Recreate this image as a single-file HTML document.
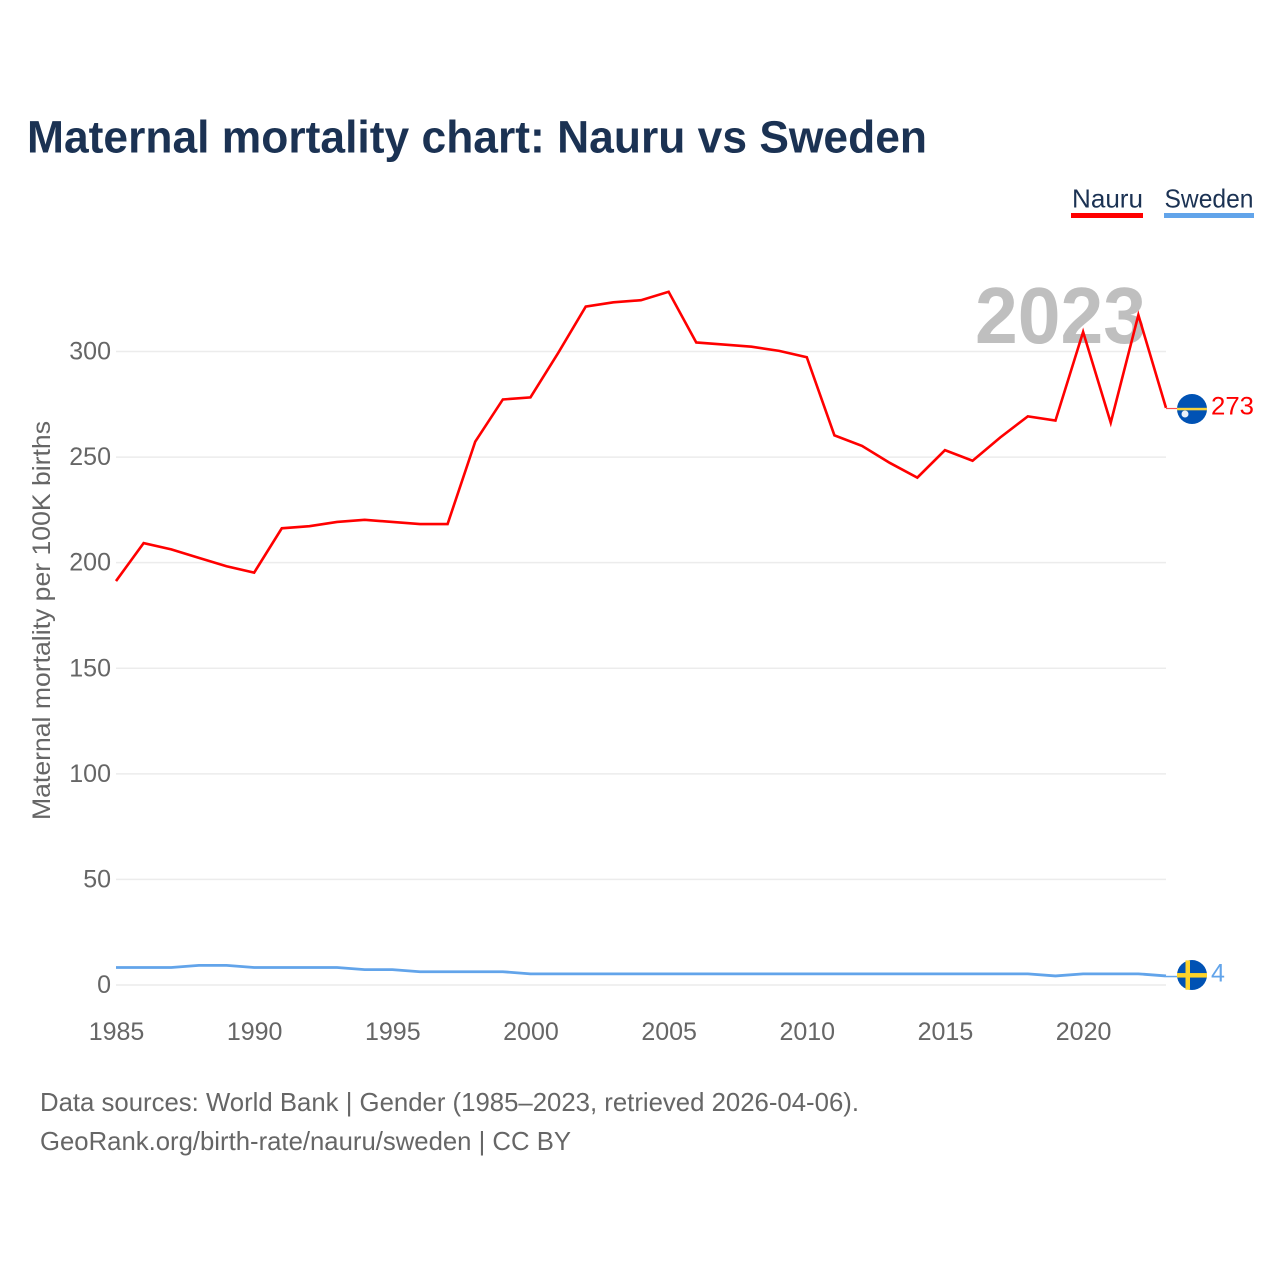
<!DOCTYPE html>
<html lang="en">
<head>
<meta charset="utf-8">
<title>Maternal mortality chart: Nauru vs Sweden</title>
<style>
html,body{margin:0;padding:0;background:#fff}
svg{display:block;font-family:"Liberation Sans",sans-serif}
</style>
</head>
<body>
<svg id="chart" width="1280" height="1280" viewBox="0 0 1280 1280" xmlns="http://www.w3.org/2000/svg">
  <text x="27" y="152.5" font-size="45" font-weight="700" fill="#1b3253" textLength="900" lengthAdjust="spacingAndGlyphs">Maternal mortality chart: Nauru vs Sweden</text>

  <g>
    <g>
      <text x="1072" y="207.5" font-size="26" fill="#1b3253" textLength="71" lengthAdjust="spacingAndGlyphs">Nauru</text>
      <rect x="1071" y="213" width="72" height="5" fill="#ff0000"></rect>
    </g>
    <g>
      <text x="1164.5" y="207.5" font-size="26" fill="#1b3253" textLength="89" lengthAdjust="spacingAndGlyphs">Sweden</text>
      <rect x="1164" y="213" width="90" height="5" fill="#62a4ea"></rect>
    </g>
  </g>

  <g id="grid"></g>
  <g id="yticks"></g>
  <g id="xticks"></g>

  <text transform="translate(50,820) rotate(-90)" x="0" y="0" font-size="25" fill="#666666" textLength="399" lengthAdjust="spacingAndGlyphs">Maternal mortality per 100K births</text>

  <text x="975" y="343" font-size="80" font-weight="700" fill="#bfbfbf" textLength="171" lengthAdjust="spacingAndGlyphs">2023</text>

  <g id="series" transform="translate(0,-0.6)"></g>

  <g id="end-labels"></g>

  <text x="40" y="1111" font-size="26" fill="#666666" textLength="819" lengthAdjust="spacingAndGlyphs">Data sources: World Bank | Gender (1985–2023, retrieved 2026-04-06).</text>
  <text x="40" y="1150" font-size="26" fill="#666666" textLength="531" lengthAdjust="spacingAndGlyphs">GeoRank.org/birth-rate/nauru/sweden | CC BY</text>
</svg>

<script>
const years = [1985,1986,1987,1988,1989,1990,1991,1992,1993,1994,1995,1996,1997,1998,1999,2000,2001,2002,2003,2004,2005,2006,2007,2008,2009,2010,2011,2012,2013,2014,2015,2016,2017,2018,2019,2020,2021,2022,2023];
const nauruValues = [191,209,206,202,198,195,216,217,219,220,219,218,218,257,277,278,299,321,323,324,328,304,303,302,300,297,260,255,247,240,253,248,259,269,267,309,266,317,273];
const swedenValues = [8,8,8,9,9,8,8,8,8,7,7,6,6,6,6,5,5,5,5,5,5,5,5,5,5,5,5,5,5,5,5,5,5,5,4,5,5,5,4];
const yTickValues = [0,50,100,150,200,250,300];
const xTickValues = [1985,1990,1995,2000,2005,2010,2015,2020];

const NS = 'http://www.w3.org/2000/svg';
const PLOT_LEFT = 116, PLOT_RIGHT = 1166, Y_ZERO = 985, Y_300 = 351.5;

function xScale(year) {
  return PLOT_LEFT + (year - years[0]) / (years[years.length - 1] - years[0]) * (PLOT_RIGHT - PLOT_LEFT);
}
function yScale(value) {
  return Y_ZERO - value / 300 * (Y_ZERO - Y_300);
}
function make(tag, attrs, parent, text) {
  const el = document.createElementNS(NS, tag);
  for (const k in attrs) el.setAttribute(k, attrs[k]);
  if (text !== undefined) el.textContent = text;
  parent.appendChild(el);
  return el;
}

const gridG = document.getElementById('grid');
const yTicksG = document.getElementById('yticks');
const xTicksG = document.getElementById('xticks');
const seriesG = document.getElementById('series');
const endG = document.getElementById('end-labels');

yTickValues.forEach(function (v) {
  const line = make('line', {x1: PLOT_LEFT, x2: PLOT_RIGHT, y1: yScale(v), y2: yScale(v), stroke: '#ececec', 'stroke-width': 1.5}, gridG);
  
  
  const label = make('text', {x: 111, y: yScale(v) + 8, 'text-anchor': 'end', 'font-size': 25, fill: '#666666'}, yTicksG, String(v));
  
  
});

xTickValues.forEach(function (yr) {
  const label = make('text', {x: xScale(yr) + 0.5, y: 1040, 'text-anchor': 'middle', 'font-size': 25, fill: '#666666'}, xTicksG, String(yr));
  
  
});

function linePath(values) {
  return values.map(function (v, i) {
    return (i ? 'L' : 'M') + xScale(years[i]).toFixed(2) + ' ' + yScale(v).toFixed(2);
  }).join(' ');
}

const swedenLine = make('path', {d: linePath(swedenValues), fill: 'none', stroke: '#62a4ea', 'stroke-width': 2.8, 'stroke-linejoin': 'miter'}, seriesG);



const nauruLine = make('path', {d: linePath(nauruValues), fill: 'none', stroke: '#ff0000', 'stroke-width': 2.6, 'stroke-linejoin': 'miter'}, seriesG);



const FLAG_X = 1192;
const lastN = nauruValues[nauruValues.length - 1];
const lastS = swedenValues[swedenValues.length - 1];
const yN = yScale(lastN);
const yS = yScale(lastS);

const leaderN = make('line', {x1: PLOT_RIGHT, x2: FLAG_X - 15, y1: yN, y2: yN, stroke: '#ff0000', 'stroke-width': 1.2, opacity: 0.7}, endG);


const leaderS = make('line', {x1: PLOT_RIGHT, x2: FLAG_X - 15, y1: yS, y2: yS, stroke: '#62a4ea', 'stroke-width': 1.5}, endG);



// Nauru flag
const nauruFlag = make('g', {}, endG);


make('circle', {cx: FLAG_X, cy: yN + 0.5, r: 15, fill: '#0052b4'}, nauruFlag);
make('rect', {x: FLAG_X - 15, y: yN - 0.7, width: 30, height: 2.5, fill: '#f5d33f'}, nauruFlag);
make('circle', {cx: FLAG_X - 7, cy: yN + 5.5, r: 3.5, fill: '#e8f0fa'}, nauruFlag);

// Sweden flag
const swedenFlag = make('g', {}, endG);


make('circle', {cx: FLAG_X, cy: yS - 1.5, r: 15, fill: '#0052b4'}, swedenFlag);
make('rect', {x: FLAG_X - 15, y: yS - 3.5, width: 30, height: 4.5, fill: '#fdd32a'}, swedenFlag);
make('rect', {x: FLAG_X - 6.5, y: yS - 16.2, width: 4.5, height: 29.4, fill: '#fdd32a'}, swedenFlag);

const labelN = make('text', {x: 1211, y: yN + 6, 'font-size': 25, fill: '#ff0000', textLength: 43, lengthAdjust: 'spacingAndGlyphs'}, endG, String(lastN));


const labelS = make('text', {x: 1211, y: yS + 5, 'font-size': 25, fill: '#62a4ea'}, endG, String(lastS));


</script>
</body>
</html>
